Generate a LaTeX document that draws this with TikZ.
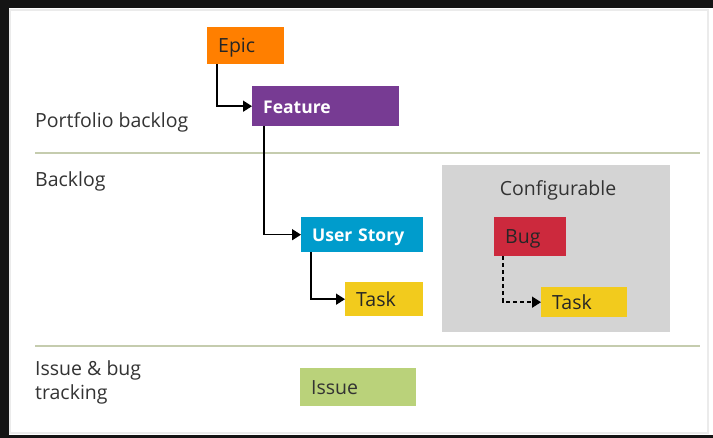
\documentclass[tikz,border=0pt]{standalone}
\usepackage{fontspec}
\setmainfont{Open Sans}
\usetikzlibrary{arrows.meta}

\definecolor{epiccol}{HTML}{FF7F00}
\definecolor{featurecol}{HTML}{773B93}
\definecolor{storycol}{HTML}{009CCC}
\definecolor{taskcol}{HTML}{F2CB1D}
\definecolor{bugcol}{HTML}{CC293D}
\definecolor{issuecol}{HTML}{BAD27A}
\definecolor{configcol}{HTML}{D4D4D4}
\definecolor{sepcol}{HTML}{C5CCAE}
\definecolor{labelcol}{HTML}{333333}

\tikzset{
  item/.style={anchor=north west, inner xsep=11pt, inner ysep=0pt,
    align=left, text height=14pt, text depth=0pt,
    font=\fontsize{19.5}{22}\selectfont},
  bolditem/.style={item, font=\fontsize{17.5}{22}\selectfont\bfseries},
  lane/.style={anchor=base west, inner sep=0pt, align=left,
    text=labelcol, font=\fontsize{19.5}{24}\selectfont},
  link/.style={line width=1.5pt, -{Triangle[length=9pt,width=11pt]}}
}

\begin{document}
\begin{tikzpicture}[x=1pt,y=-1pt]

  \def\xmin{35}
  \def\xmax{700}

  % frame
  \useasboundingbox (0,0) rectangle (713,438);
  \fill[black!92] (0,0) rectangle (713,438);
  \fill[white] (9,8) rectangle (713,435);
  \draw[black!8, line width=1.5pt] (10,10) rectangle (708,433);

  % lanes
  \draw[sepcol, line width=2pt] (\xmin,153) -- (\xmax,153);
  \draw[sepcol, line width=2pt] (\xmin,346) -- (\xmax,346);
  \node[lane] (portfolio) at (\xmin,128) {Portfolio backlog};
  \node[lane] (backlog) at (\xmin,187) {Backlog};
  \node[lane] (tracking) at (\xmin,400) {Issue \& bug\\tracking};

  % configurable area
  \fill[configcol] (442,165) rectangle (670,332);
  \node[text=labelcol, font=\fontsize{19.5}{22}\selectfont] (config) at (558,190) {Configurable};

  % work items
  \node[item, fill=epiccol, text=black!85, text width=55pt, minimum height=37pt] (epic) at (207,27) {Epic};
  \node[bolditem, fill=featurecol, text=white, text width=125pt, minimum height=40pt] (feature) at (252,86) {Feature};
  \node[bolditem, fill=storycol, text=white, text width=100pt, minimum height=35pt] (story) at (301,217) {User Story};
  \node[item, fill=taskcol, text=black!85, text width=56pt, minimum height=34pt] (task) at (345,282) {Task};
  \node[item, fill=bugcol, text=black!85, text width=50pt, minimum height=39pt] (bug) at (494,217) {Bug};
  \node[item, fill=taskcol, text=black!85, text width=64pt, minimum height=30pt] (bugtask) at (541,287) {Task};
  \node[item, fill=issuecol, text=black!80, text width=94pt, minimum height=38pt] (issue) at (300,368) {Issue};

  % links
  \draw[link] ([xshift=10pt]epic.south west) |- (feature.west);
  \draw[link] ([xshift=12pt]feature.south west) |- (story.west);
  \draw[link] ([xshift=10pt]story.south west) |- (task.west);
  \draw[link, dash pattern=on 4pt off 3pt] ([xshift=9pt]bug.south west) |- (bugtask.west);

\end{tikzpicture}
\end{document}
